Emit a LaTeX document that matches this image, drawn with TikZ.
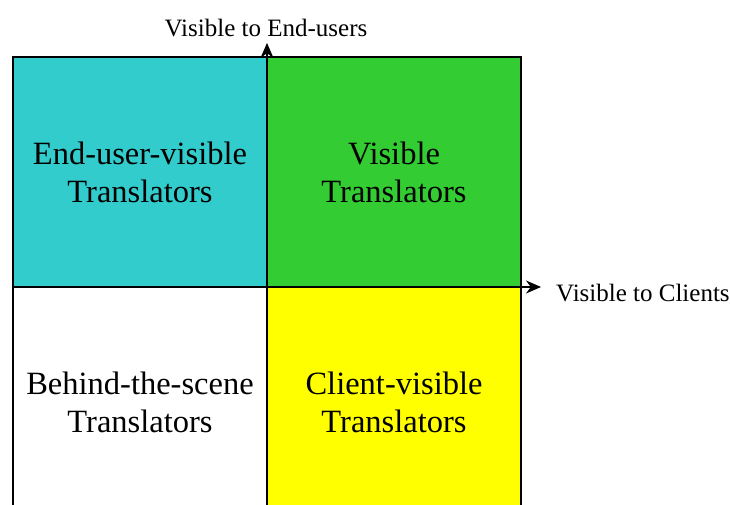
\documentclass[tikz,border=0pt]{standalone}
\usepackage{fontspec}
\setmainfont{Liberation Serif}
\usetikzlibrary{arrows.meta}
\definecolor{cyanq}{HTML}{33CCCC}
\definecolor{greenq}{HTML}{33CC33}
\definecolor{yellowq}{HTML}{FFFF00}
\begin{document}
\begin{tikzpicture}[x=1pt,y=-1pt,
  quad/.style={draw=black, line width=1.3pt, minimum width=254pt, minimum height=230pt,
    inner sep=0pt, align=center, font=\fontsize{32.5}{38}\selectfont},
  axislabel/.style={font=\fontsize{25}{28}\selectfont, inner sep=0pt},
  axis/.style={draw=black, line width=1.3pt, -{Stealth[length=15pt,width=13pt]}}]
\useasboundingbox (0,0) rectangle (730,505);
\clip (0,0) rectangle (730,505);
\node[quad, fill=cyanq] (ul) at (140,172) {End-user-visible\\Translators};
\node[quad, fill=greenq] (ur) at (394,172) {Visible\\Translators};
\node[quad, fill=white] (ll) at (140,402) {Behind-the-scene\\Translators};
\node[quad, fill=yellowq] (lr) at (394,402) {Client-visible\\Translators};
\coordinate (vb) at (267,517);
\coordinate (vt) at (267,43);
\coordinate (hl) at (13,287);
\coordinate (hr) at (541,287);
\draw[axis] (vb) -- (vt);
\draw[axis] (hl) -- (hr);
\node[axislabel] (ylab) at (266,28) {Visible to End-users};
\node[axislabel, anchor=west] (xlab) at (556,293) {Visible to Clients};
\end{tikzpicture}
\end{document}
